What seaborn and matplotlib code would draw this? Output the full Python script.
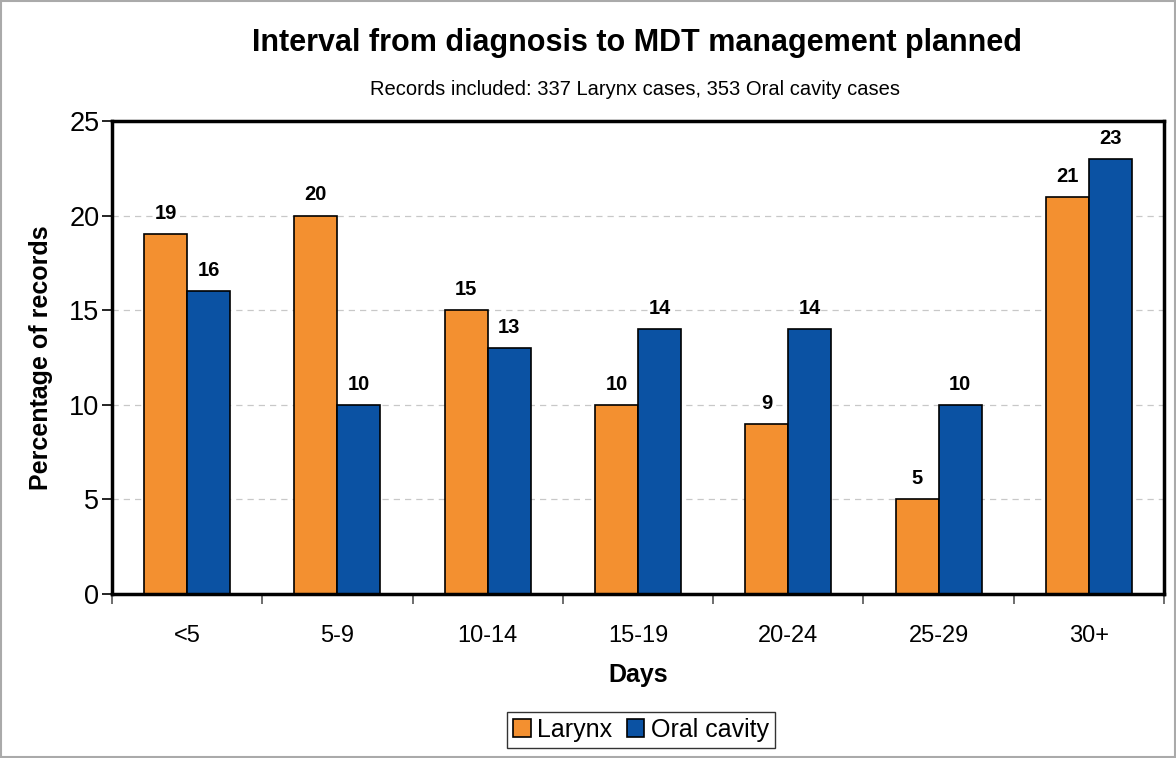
import pandas as pd
import seaborn as sns
import matplotlib.pyplot as plt
from matplotlib.patches import Rectangle

categories = ["<5", "5-9", "10-14", "15-19", "20-24", "25-29", "30+"]
larynx = [19, 20, 15, 10, 9, 5, 21]
oral_cavity = [16, 10, 13, 14, 14, 10, 23]
series_names = ["Larynx", "Oral cavity"]

df = pd.DataFrame({
    "Days": categories * 2,
    "Percent": larynx + oral_cavity,
    "Site": [series_names[0]] * len(categories) + [series_names[1]] * len(categories),
})

sns.set_style("white")
plt.rcParams["font.family"] = ["Liberation Sans", "DejaVu Sans"]
plt.rcParams["text.color"] = "black"
plt.rcParams["axes.labelcolor"] = "black"
plt.rcParams["xtick.color"] = "black"
plt.rcParams["ytick.color"] = "black"

fig = plt.figure(figsize=(11.76, 7.58), dpi=100)
ax = fig.add_axes([0.0952, 0.2164, 0.8946, 0.624])

sns.barplot(
    data=df, x="Days", y="Percent", hue="Site",
    palette=["#F39030", "#0B52A3"], width=0.573,
    edgecolor="black", linewidth=1.2, saturation=1, ax=ax,
)

for cont in ax.containers:
    ax.bar_label(cont, padding=8, fontsize=14.5, fontweight="bold")

ax.set_xlim(-0.5, len(categories) - 0.5)
ax.set_ylim(0, 25)
ax.set_yticks([0, 5, 10, 15, 20, 25])
ax.yaxis.grid(True, linestyle=(0, (5, 4)), color="#c8c8c8", linewidth=0.9)
ax.set_axisbelow(True)

ax.tick_params(axis="y", labelsize=19.5, length=7, width=1.2, direction="out", left=True, pad=2)
ax.tick_params(axis="x", which="major", labelsize=17, length=0, pad=22)
ax.set_xticks([i + 0.5 for i in range(-1, len(categories))], minor=True)
ax.tick_params(axis="x", which="minor", length=7, width=1.2, direction="out", bottom=True, color="#555555")

for s in ax.spines.values():
    s.set_linewidth(2.5)
    s.set_color("black")

ax.set_xlabel("Days", fontsize=18, fontweight="bold", labelpad=12)
ax.set_ylabel("Percentage of records", fontsize=18, fontweight="bold", labelpad=12)

fig.text(0.542, 0.943, "Interval from diagnosis to MDT management planned",
         ha="center", va="center", fontsize=22, fontweight="bold")
fig.text(0.54, 0.882, "Records included: 337 Larynx cases, 353 Oral cavity cases",
         ha="center", va="center", fontsize=14.5)

ax.legend(loc="center", bbox_to_anchor=(0.545, 0.037), bbox_transform=fig.transFigure,
          ncol=2, fontsize=18, frameon=True, fancybox=False, edgecolor="black",
          handlelength=0.7, handleheight=0.7, handletextpad=0.25, columnspacing=0.6,
          borderpad=0.25)

fig.patches.append(Rectangle((0.001, 0.001), 0.998, 0.998, transform=fig.transFigure,
                             fill=False, edgecolor="#aaaaaa", linewidth=1.5))

plt.savefig("out.png", dpi=100)
